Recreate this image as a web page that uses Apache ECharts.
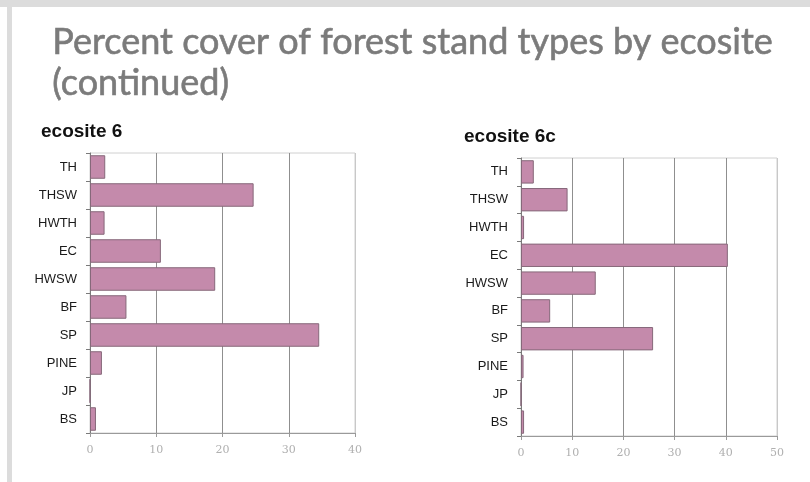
<!DOCTYPE html>
<html>
<head>
<meta charset="utf-8">
<script src="https://cdn.jsdelivr.net/npm/echarts@6/dist/echarts.min.js"></script>
<style>
html,body{margin:0;padding:0;background:#fff;}
#chart{width:810px;height:482px;}
</style>
</head>
<body>
<div id="chart"></div>
<script>
const categories = ['TH','THSW','HWTH','EC','HWSW','BF','SP','PINE','JP','BS'];
const ecosite6 = [2.3, 24.7, 2.2, 10.7, 18.9, 5.5, 34.6, 1.8, 0, 0.9];
const ecosite6c = [2.5, 9.1, 0.6, 40.4, 14.6, 5.7, 25.8, 0.5, 0, 0.6];
const ticks6 = [0, 10, 20, 30, 40];
const ticks6c = [0, 10, 20, 30, 40, 50];
const titleText = 'Percent cover of forest stand types by ecosite\n(continued)';
const subtitle6 = 'ecosite 6';
const subtitle6c = 'ecosite 6c';

const chart = echarts.init(document.getElementById('chart'), null, {renderer:'canvas'});

function xAxisFor(idx, ticks){
  const n = ticks.length;
  const colors = ticks.map((t,i)=> i===n-1 ? '#c8c8c8' : '#8f8f8f');
  return {
    type:'value', gridIndex: idx,
    min: ticks[0], max: ticks[n-1], interval: ticks[1]-ticks[0],
    axisLine:{show:true, lineStyle:{color:'#9a9a9a', width:1}},
    axisTick:{show:true, length:4, lineStyle:{color:'#9a9a9a'}},
    axisLabel:{color:'#b0b0b0', fontSize:11, fontFamily:'DejaVu Serif', margin:12},
    splitLine:{show:true, lineStyle:{color:colors, width:1}}
  };
}
function yAxisFor(idx){
  return {
    type:'category', gridIndex: idx, data: categories, inverse: true,
    axisLine:{show:true, lineStyle:{color:'#7a7a7a', width:1}},
    axisTick:{show:true, length:4, lineStyle:{color:'#7a7a7a'}},
    axisLabel:{color:'#1a1a1a', fontSize:13, fontFamily:'Liberation Sans', margin:13},
    splitLine:{show:false}
  };
}
const barStyle = {color:'#c48aab', borderColor:'#86687a', borderWidth:1};

chart.setOption({
  animation:false,
  backgroundColor:'#ffffff',
  grid:[
    {left:90, top:153, width:265, height:280, show:true, borderColor:'#d0d0d0', borderWidth:1, backgroundColor:'#fff'},
    {left:521, top:158, width:256, height:278, show:true, borderColor:'#d0d0d0', borderWidth:1, backgroundColor:'#fff'}
  ],
  xAxis:[xAxisFor(0, ticks6), xAxisFor(1, ticks6c)],
  yAxis:[yAxisFor(0), yAxisFor(1)],
  series:[
    {type:'bar', xAxisIndex:0, yAxisIndex:0, data:ecosite6, barCategoryGap:'16%', itemStyle:barStyle},
    {type:'bar', xAxisIndex:1, yAxisIndex:1, data:ecosite6c, barCategoryGap:'16%', itemStyle:barStyle}
  ],
  graphic:[
    {type:'rect', left:0, top:0, shape:{width:810, height:7}, style:{fill:'#dcdcdc'}, z:-1},
    {type:'rect', left:7, top:7, shape:{width:5, height:475}, style:{fill:'#dcdcdc'}, z:-1},
    {type:'text', left:52, top:22, style:{text:titleText, fill:'#7b7b7b', stroke:'#7b7b7b', lineWidth:0.6, font:'36px Lato', lineHeight:41}},
    {type:'text', left:41, top:122, style:{text:subtitle6, fill:'#111', font:'bold 19px Liberation Sans'}},
    {type:'text', left:464, top:127, style:{text:subtitle6c, fill:'#111', font:'bold 19px Liberation Sans'}}
  ]
});
</script>
</body>
</html>
